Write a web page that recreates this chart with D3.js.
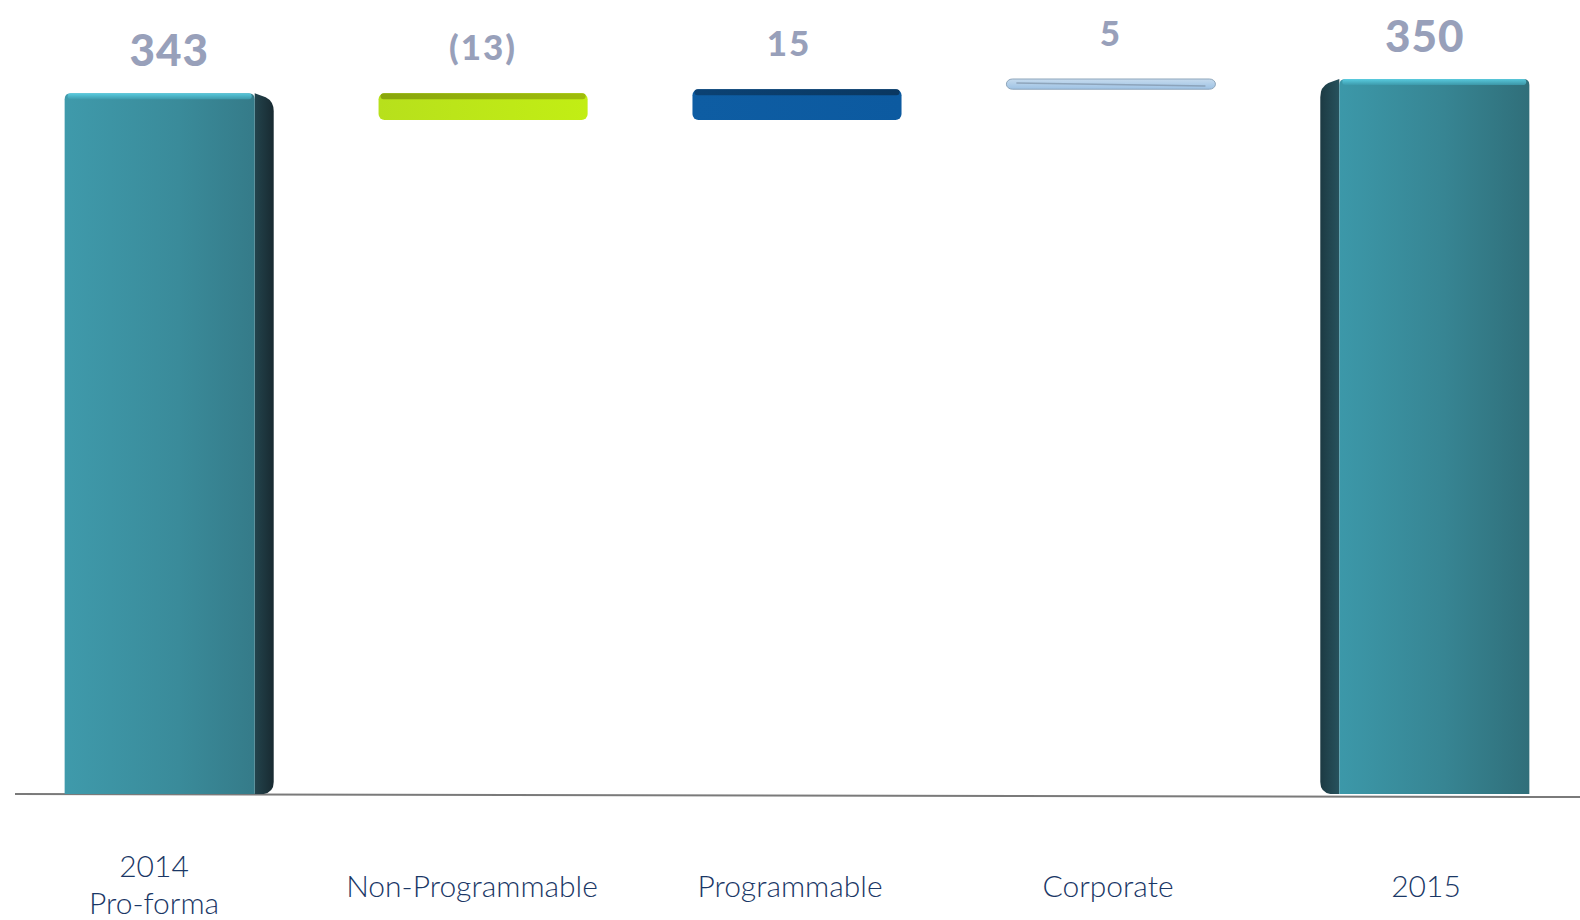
<!DOCTYPE html>
<html><head><meta charset="utf-8">
<script src="https://cdn.jsdelivr.net/npm/d3@7"></script>
<style>html,body{margin:0;padding:0;background:#fff;}svg{display:block;}</style>
</head><body>
<svg id="chart" width="1580" height="920"></svg>
<script>
// ---- data ----
const categories = ["2014|Pro-forma", "Non-Programmable", "Programmable", "Corporate", "2015"];
const values = [343, -13, 15, 5, 350];
const kinds = ["total", "delta", "delta", "delta", "total"];
const valueLabels = ["343", "(13)", "15", "5", "350"];

// ---- styles ----
const deltaFills = {1: "green", 2: "blue", 3: "light"};
const svg = d3.select("#chart");
const defs = svg.append("defs");

function lin(id, stops, x2 = "100%", y2 = "0%") {
  const g = defs.append("linearGradient").attr("id", id).attr("x1", "0%").attr("y1", "0%").attr("x2", x2).attr("y2", y2);
  stops.forEach(([o, c]) => g.append("stop").attr("offset", o).attr("stop-color", c));
}
lin("frontL", [["0%", "#3f9aab"], ["60%", "#3a8b9a"], ["100%", "#357b89"]]);
lin("frontR", [["0%", "#3c98a9"], ["55%", "#378593"], ["100%", "#306f7a"]]);
lin("sideR", [["0%", "#23434c"], ["100%", "#182a31"]]);
lin("sideL", [["0%", "#1c3a43"], ["100%", "#27525d"]]);
lin("topHi", [["0%", "#5fd6ea"], ["100%", "#3d9cae"]], "0%", "100%");
lin("green", [["0%", "#b7e01c"], ["100%", "#c2ee14"]]);
lin("greenTop", [["0%", "#89a60c"], ["100%", "#9fbd0b"]]);
lin("blue", [["0%", "#0e5da3"], ["100%", "#0c5aa0"]]);
lin("blueTop", [["0%", "#0b4274"], ["100%", "#0a3760"]]);
lin("light", [["0%", "#c6dbee"], ["100%", "#9dc2e4"]], "0%", "100%");

// ---- waterfall ----
let running = 0;
const bars = values.map((v, i) => {
  let start, end;
  if (kinds[i] === "total") { start = 0; end = v; running = v; }
  else { start = running; end = running + v; running = end; }
  return {cat: categories[i], v, kind: kinds[i], label: valueLabels[i], lo: Math.min(start, end), hi: Math.max(start, end), i};
});

const x = d3.scaleBand().domain(categories).range([5, 1589]).paddingInner(0.334).paddingOuter(0.19);
const xLabel = d3.scalePoint().domain(categories).range([154, 1426]);
const y = d3.scaleLinear().domain([0, 350]).range([795, 79]);
const bw = x.bandwidth();
const depth = 19;

// baseline
svg.append("line").attr("x1", 15).attr("x2", 1580).attr("y1", y(0) - 1).attr("y2", y(0) + 2)
  .attr("stroke", "#7a7a7a").attr("stroke-width", 2);

const g = svg.append("g");
bars.forEach(b => {
  const x0 = x(b.cat);
  if (b.kind === "total") {
    const fw = bw - depth;
    const top = y(b.hi), bot = y(0) - 1;
    const sideRight = b.i === 0;
    const fx = sideRight ? x0 : x0 + depth;
    const sx = sideRight ? x0 + fw : x0;
    if (sideRight) {
      g.append("path").attr("d",
        `M${sx},${top} L${sx + depth - 8},${top + 4} Q${sx + depth},${top + 8} ${sx + depth},${top + 18}
         L${sx + depth},${bot - 12} Q${sx + depth},${bot - 2} ${sx + depth - 10},${bot} L${sx},${bot} Z`)
        .attr("fill", "url(#sideR)");
    } else {
      g.append("path").attr("d",
        `M${sx + depth},${top} L${sx + 8},${top + 4} Q${sx},${top + 8} ${sx},${top + 18}
         L${sx},${bot - 12} Q${sx},${bot - 2} ${sx + 10},${bot} L${sx + depth},${bot} Z`)
        .attr("fill", "url(#sideL)");
    }
    g.append("path").attr("d",
      `M${fx},${top + 6} Q${fx},${top} ${fx + 6},${top} L${fx + fw - 6},${top} Q${fx + fw},${top} ${fx + fw},${top + 6} L${fx + fw},${bot} L${fx},${bot} Z`)
      .attr("fill", `url(#${sideRight ? "frontL" : "frontR"})`);
    g.append("rect").attr("x", fx + 3).attr("y", top).attr("width", fw - 6).attr("height", 6).attr("rx", 3)
      .attr("fill", "url(#topHi)").attr("opacity", 0.85);
  } else {
    const top = y(b.hi), h = Math.max(y(b.lo) - y(b.hi), 6);
    const kind = deltaFills[b.i];
    if (kind === "light") {
      g.append("rect").attr("x", x0).attr("y", top).attr("width", bw).attr("height", Math.min(h, 12)).attr("rx", 6)
        .attr("fill", "url(#light)").attr("stroke", "#8fa6bb").attr("stroke-width", 1);
      g.append("line").attr("x1", x0 + 10).attr("x2", x0 + bw - 10).attr("y1", top + 4).attr("y2", top + 7)
        .attr("stroke", "#7f93a8").attr("stroke-width", 1.5).attr("opacity", 0.7);
    } else {
      g.append("rect").attr("x", x0).attr("y", top).attr("width", bw).attr("height", h).attr("rx", 6)
        .attr("fill", `url(#${kind})`);
      g.append("rect").attr("x", x0 + 2).attr("y", top).attr("width", bw - 4).attr("height", 6).attr("rx", 3)
        .attr("fill", `url(#${kind}Top)`);
    }
  }
  const isTotal = b.kind === "total";
  g.append("text").attr("x", x0 + bw / 2 + (b.i === 2 ? -8 : 0))
    .attr("y", y(b.hi) - (isTotal ? 27 : 33))
    .attr("text-anchor", "middle")
    .attr("font-family", "Lato, 'Open Sans', sans-serif")
    .attr("font-weight", 900)
    .attr("font-size", isTotal ? 44 : 35)
    .attr("letter-spacing", isTotal ? 1 : 2)
    .attr("fill", "#98a0ba")
    .text(b.label);
});

// category labels
categories.forEach((c, i) => {
  const parts = c.split("|");
  const cx = xLabel(c);
  const t = svg.append("text").attr("text-anchor", "middle")
    .attr("font-family", "Lato, 'Open Sans', sans-serif").attr("font-weight", 300)
    .attr("font-size", 30).attr("fill", "#1a3766");
  if (parts.length === 1) {
    t.append("tspan").attr("x", cx).attr("y", 897).text(parts[0]);
  } else {
    t.append("tspan").attr("x", cx).attr("y", 877).text(parts[0]);
    t.append("tspan").attr("x", cx).attr("y", 914).text(parts[1]);
  }
});
</script>
</body></html>
